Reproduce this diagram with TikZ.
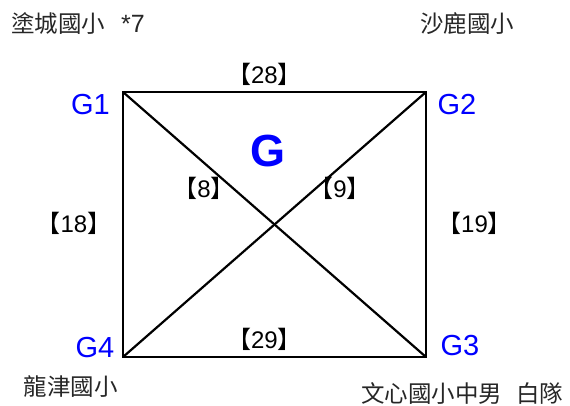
\documentclass[tikz,border=0pt]{standalone}
\usepackage{fontspec}
\setmainfont{Liberation Sans}
\newfontfamily\cjk{Noto Sans CJK TC}
\begin{document}
\begin{tikzpicture}[x=1pt,y=-1pt,
  edge/.style={draw=black,line width=2.2pt},
  glabel/.style={text=blue,inner sep=0pt,anchor=base,font=\fontsize{29}{29}\selectfont},
  wlabel/.style={text=black,inner sep=0pt,anchor=base,font=\fontsize{24}{24}\selectfont},
  school/.style={text=black!85,inner sep=0pt,font=\cjk\fontsize{23.5}{23.5}\selectfont}]
\useasboundingbox (0,0) rectangle (570,405);
\coordinate (g1) at (123,92);
\coordinate (g2) at (426,92);
\coordinate (g3) at (426,357);
\coordinate (g4) at (123,357);
\draw[edge] (g1) -- (g2) -- (g3) -- (g4) -- cycle;
\draw[edge] (g1) -- (g3);
\draw[edge] (g2) -- (g4);
\node[glabel] (l1) at (90.5,114.5) {G1};
\node[glabel] (l2) at (457,114.5) {G2};
\node[glabel] (l3) at (460,355) {G3};
\node[glabel] (l4) at (95,357) {G4};
\node[glabel,font=\fontsize{45}{45}\selectfont\bfseries] (gg) at (267.5,166) {G};
\node[wlabel] (w28) at (264.5,83.3) {{\cjk 【}28{\cjk 】}};
\node[wlabel] (w29) at (264.5,348) {{\cjk 【}29{\cjk 】}};
\node[wlabel] (w18) at (74,232) {{\cjk 【}18{\cjk 】}};
\node[wlabel] (w19) at (474.5,232) {{\cjk 【}19{\cjk 】}};
\node[wlabel] (w8) at (204,197) {{\cjk 【}8{\cjk 】}};
\node[wlabel] (w9) at (340,197) {{\cjk 【}9{\cjk 】}};
\node[school,anchor=west] (s1) at (11,24) {塗城國小\hspace{16pt}{\rmfamily\fontsize{25}{25}\selectfont *7}};
\node[school] (s2) at (467,24) {沙鹿國小};
\node[school] (s4) at (70.5,387) {龍津國小};
\node[school,anchor=west] (s3) at (361,394) {文心國小中男\hspace{14pt}白隊};
\end{tikzpicture}
\end{document}
